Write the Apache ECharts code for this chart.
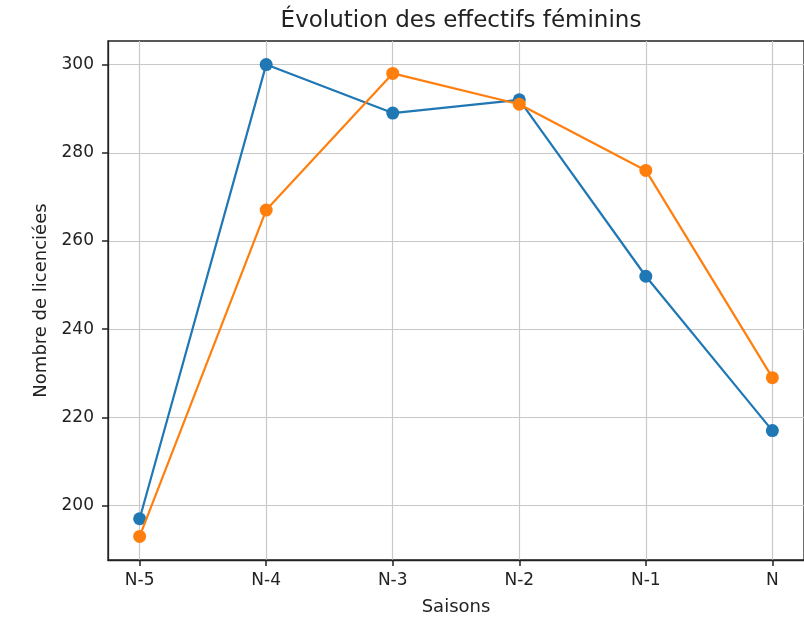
<!DOCTYPE html>
<html>
<head>
<meta charset="utf-8">
<script src="https://cdn.jsdelivr.net/npm/echarts@6/dist/echarts.min.js"></script>
<style>
  html, body { margin: 0; padding: 0; background: #fff; }
  #main { width: 804px; height: 621px; }
</style>
</head>
<body>
<div id="main"></div>
<script>
// saisons et effectifs
var saisons = ['N-5', 'N-4', 'N-3', 'N-2', 'N-1', 'N'];
var serieBleue = [197, 300, 289, 292, 252, 217];
var serieOrange = [193, 267, 298, 291, 276, 229];
var xTicks = [0, 1, 2, 3, 4, 5];
var yTicks = [200, 220, 240, 260, 280, 300];

var police = 'DejaVu Sans';

function pts(vals) {
    return vals.map(function(v, i) { return [i, v]; });
}

var chart = echarts.init(document.getElementById('main'));
chart.setOption({
    animation: false,
    backgroundColor: '#fff',
    title: {
        text: 'Évolution des effectifs féminins',
        left: 456,
        top: 5,
        textAlign: 'center',
        textStyle: { fontFamily: police, fontSize: 23, fontWeight: 'normal', color: '#222' }
    },
    grid: {
        left: 108, top: 41, width: 698, height: 521,
        show: true, borderColor: '#222', borderWidth: 1.3, backgroundColor: 'transparent'
    },
    xAxis: {
        type: 'value',
        min: -0.25, max: 5.25,
        name: 'Saisons',
        nameLocation: 'middle',
        nameGap: 38,
        nameTextStyle: { fontFamily: police, fontSize: 18, color: '#222' },
        axisLine: { show: true, onZero: false, lineStyle: { color: '#222', width: 1.3 } },
        axisTick: { show: true, inside: false, length: 6, lineStyle: { color: '#222', width: 1.5 }, customValues: xTicks },
        axisLabel: {
            fontFamily: police, fontSize: 17, color: '#222', margin: 12,
            customValues: xTicks,
            formatter: function(v) { return saisons[Math.round(v)]; }
        },
        splitLine: { show: true, lineStyle: { color: '#c8c8c8', width: 1.2 } }
    },
    yAxis: {
        type: 'value',
        min: 187.65, max: 305.35,
        name: 'Nombre de licenciées',
        nameLocation: 'middle',
        nameGap: 54,
        nameTextStyle: { fontFamily: police, fontSize: 18, color: '#222' },
        axisLine: { show: true, onZero: false, lineStyle: { color: '#222', width: 1.3 } },
        axisTick: { show: true, inside: false, length: 6, lineStyle: { color: '#222', width: 1.5 }, customValues: yTicks },
        axisLabel: { fontFamily: police, fontSize: 17, color: '#222', margin: 14, customValues: yTicks },
        splitLine: { show: true, lineStyle: { color: '#c8c8c8', width: 1.2 } }
    },
    series: [{
        type: 'line',
        data: pts(serieBleue),
        color: '#1f77b4',
        symbol: 'circle',
        symbolSize: 13,
        lineStyle: { width: 2.2 },
        z: 3
    }, {
        type: 'line',
        data: pts(serieOrange),
        color: '#ff7f0e',
        symbol: 'circle',
        symbolSize: 13,
        lineStyle: { width: 2.2 },
        z: 4
    }]
});
</script>
</body>
</html>
